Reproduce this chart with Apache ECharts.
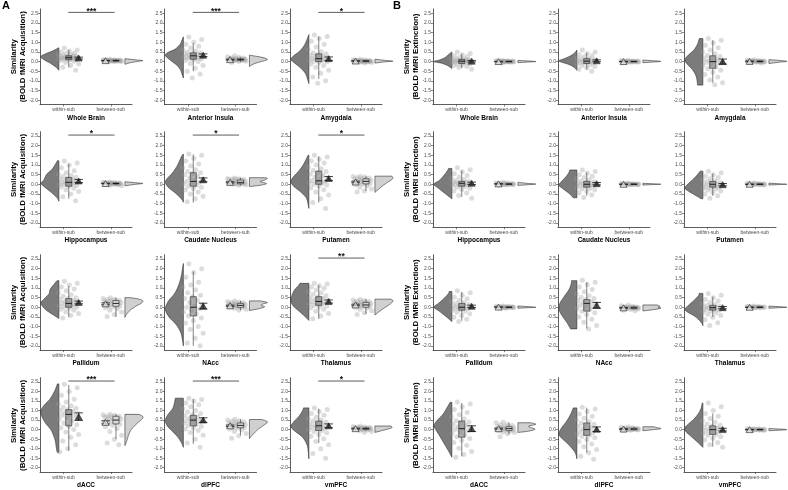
<!DOCTYPE html>
<html><head><meta charset="utf-8">
<script src="https://cdn.jsdelivr.net/npm/echarts@6/dist/echarts.min.js"></script>
<style>html,body{margin:0;padding:0;background:#fff}#c{width:788px;height:490px}</style>
</head><body><div id="c"></div>
<script>
// ---------------- DATA ----------------
const regions = ['Whole Brain','Anterior Insula','Amygdala','Hippocampus','Caudate Nucleus','Putamen','Pallidum','NAcc','Thalamus','dACC','dlPFC','vmPFC'];
const groups = ['within-sub','between-sub'];
const yTicks = [-2,-1.5,-1,-0.5,0,0.5,1,1.5,2,2.5];
const yTitles = ['Similarity\n(BOLD fMRI Acquisition)','Similarity\n(BOLD fMRI Extinction)'];
const acqSig = ['***','***','*','*','*','*','','','**','***','***','*'];
const extSig = ['','','','','','','','','','','',''];

// box stats [lower whisker, q1, median, q3, upper whisker]
const acqWithinBox = [[-0.3,0.1,0.2,0.3,0.6],[-0.5,0.12,0.3,0.45,0.95],[-0.9,0.0,0.15,0.4,1.3],[-0.75,-0.1,0.1,0.35,1.05],[-0.95,-0.1,0.15,0.6,1.55],[-0.95,0.0,0.18,0.68,1.45],[-0.5,0.0,0.2,0.45,1.1],[-2.0,-0.45,0.0,0.55,1.85],[-0.6,0.1,0.3,0.55,1.15],[-1.1,0.2,0.8,1.05,2.35],[-0.75,0.2,0.5,0.75,1.6],[-0.7,-0.05,0.2,0.45,1.1]];
const acqBetweenBox = [[0.0,0.03,0.05,0.07,0.11],[-0.02,0.07,0.1,0.14,0.22],[-0.04,0.0,0.03,0.05,0.1],[-0.03,0.02,0.04,0.06,0.1],[-0.05,0.03,0.1,0.22,0.33],[-0.35,0.02,0.15,0.28,0.42],[-0.5,0.05,0.2,0.35,0.5],[-0.15,0.0,0.1,0.2,0.33],[-0.35,0.0,0.12,0.25,0.42],[-0.5,0.3,0.5,0.7,0.8],[-0.3,0.1,0.22,0.35,0.55],[-0.05,0.02,0.05,0.08,0.15]];
const extWithinBox = [[-0.35,-0.1,0.02,0.12,0.4],[-0.4,-0.1,0.02,0.15,0.45],[-1.1,-0.35,0.0,0.3,1.1],[-0.65,-0.1,0.05,0.15,0.7],[-0.6,-0.15,0.0,0.15,0.6],[-0.6,-0.15,0.0,0.15,0.55],[-0.7,-0.15,0.0,0.2,0.8],[-1.1,-0.2,0.2,0.4,1.3],[-0.5,-0.15,-0.02,0.1,0.55],[-1.4,-0.4,0.05,0.45,1.4],[-1.2,-0.3,0.0,0.35,1.15],[-0.9,-0.25,0.0,0.2,0.85]];
const extBetweenBox = [[-0.03,-0.01,0.0,0.02,0.04],[-0.03,-0.01,0.0,0.02,0.04],[-0.05,-0.01,0.01,0.03,0.07],[-0.04,-0.01,0.01,0.03,0.07],[-0.03,-0.01,0.0,0.02,0.04],[-0.03,-0.01,0.0,0.02,0.04],[-0.03,-0.01,0.0,0.02,0.05],[-0.12,-0.06,-0.03,0.01,0.08],[-0.03,-0.01,0.0,0.02,0.05],[-0.25,-0.05,0.05,0.15,0.35],[-0.05,0.0,0.03,0.07,0.15],[-0.04,-0.01,0.0,0.02,0.05]];

// means and standard errors
const acqWithinMean = [0.18,0.33,0.15,0.17,0.23,0.3,0.25,0.06,0.3,0.68,0.5,0.2];
const acqWithinSE   = [0.05,0.07,0.09,0.08,0.1,0.1,0.07,0.15,0.08,0.2,0.12,0.1];
const acqBetweenMean = [0.05,0.1,0.03,0.04,0.1,0.12,0.18,0.08,0.12,0.38,0.2,0.05];
const acqBetweenSE   = [0.01,0.02,0.01,0.01,0.03,0.04,0.05,0.03,0.04,0.08,0.04,0.02];
const extWithinMean = [0.02,0.04,0.0,0.05,0.03,-0.02,0.05,0.1,-0.02,0.05,0.02,0.0];
const extWithinSE   = [0.04,0.05,0.13,0.06,0.06,0.06,0.06,0.15,0.06,0.15,0.12,0.07];
const extBetweenMean = [0.0,0.0,0.01,0.02,0.0,0.0,0.01,-0.03,0.0,0.05,0.03,0.0];
const extBetweenSE   = [0.01,0.01,0.02,0.01,0.01,0.01,0.01,0.02,0.01,0.03,0.02,0.01];

// violin density profiles: [y, relative width]
const acqWithinViolin = [
 [[-0.45,0],[-0.3,0.15],[-0.1,0.45],[0.05,0.75],[0.2,0.98],[0.28,1],[0.4,0.75],[0.55,0.35],[0.72,0]],
 [[-0.85,0],[-0.7,0.06],[-0.45,0.15],[-0.2,0.35],[0.05,0.7],[0.3,1],[0.45,0.9],[0.65,0.45],[0.9,0.18],[1.1,0.08],[1.28,0]],
 [[-1.14,0],[-0.9,0.08],[-0.6,0.2],[-0.3,0.5],[0.0,0.9],[0.12,1],[0.3,0.85],[0.55,0.5],[0.85,0.25],[1.15,0.1],[1.4,0]],
 [[-0.88,0],[-0.7,0.1],[-0.4,0.45],[-0.1,0.85],[0.05,1],[0.2,0.85],[0.4,0.75],[0.55,0.65],[0.75,0.4],[1.0,0.22],[1.22,0.08]],
 [[-0.93,0],[-0.75,0.12],[-0.45,0.45],[-0.15,0.85],[0.1,1],[0.3,0.9],[0.6,0.6],[0.9,0.38],[1.2,0.22],[1.45,0.1],[1.57,0]],
 [[-1.25,0],[-1.0,0.05],[-0.7,0.15],[-0.4,0.45],[-0.1,0.85],[0.15,1],[0.4,0.85],[0.7,0.55],[1.0,0.32],[1.3,0.15],[1.5,0.05]],
 [[-0.58,0],[-0.4,0.3],[-0.15,0.7],[0.1,0.95],[0.25,1],[0.45,0.8],[0.7,0.55],[0.9,0.5],[1.1,0.35],[1.38,0.1]],
 [[-2.0,0],[-1.7,0.05],[-1.3,0.15],[-0.9,0.4],[-0.5,0.8],[-0.1,1],[0.3,0.85],[0.7,0.5],[1.1,0.28],[1.6,0.12],[2.0,0.05],[2.27,0]],
 [[-0.68,0],[-0.45,0.25],[-0.2,0.55],[0.05,0.85],[0.3,1],[0.6,0.95],[0.9,0.8],[1.1,0.6],[1.24,0.5]],
 [[-1.19,0.1],[-0.9,0.15],[-0.6,0.2],[-0.3,0.3],[0.0,0.45],[0.35,0.75],[0.7,0.95],[1.0,1],[1.3,0.8],[1.6,0.5],[2.0,0.25],[2.4,0.08]],
 [[-0.93,0],[-0.7,0.1],[-0.4,0.3],[-0.1,0.6],[0.2,0.9],[0.5,1],[0.8,0.85],[1.1,0.6],[1.4,0.5],[1.65,0.45]],
 [[-1.53,0],[-1.2,0.03],[-0.8,0.1],[-0.4,0.35],[-0.1,0.75],[0.15,1],[0.4,0.85],[0.7,0.55],[1.0,0.35],[1.14,0.3]]
];
const acqBetweenViolin = [
 [[-0.14,0],[-0.05,0.35],[0.02,0.8],[0.05,1],[0.08,0.7],[0.15,0]],
 [[-0.25,0],[-0.1,0.3],[0.05,0.85],[0.12,1],[0.22,0.7],[0.33,0]],
 [[-0.08,0],[-0.02,0.5],[0.02,1],[0.06,0.6],[0.12,0]],
 [[-0.08,0],[0.0,0.6],[0.04,1],[0.08,0.6],[0.13,0]],
 [[-0.12,0],[-0.05,0.6],[0.03,0.95],[0.1,0.75],[0.15,0.6],[0.22,0.85],[0.3,1],[0.34,0.9]],
 [[-0.42,0],[-0.3,0.15],[-0.1,0.4],[0.1,0.7],[0.25,0.95],[0.35,1],[0.42,0.95]],
 [[-0.52,0],[-0.35,0.1],[-0.15,0.3],[0.05,0.6],[0.2,0.9],[0.32,1],[0.42,0.8],[0.5,0.3]],
 [[-0.17,0],[-0.08,0.5],[0.02,0.85],[0.1,0.65],[0.17,0.75],[0.25,1],[0.33,0.6]],
 [[-0.4,0],[-0.25,0.2],[-0.05,0.5],[0.1,0.75],[0.25,0.95],[0.35,1],[0.42,0.9]],
 [[-0.84,0],[-0.6,0.1],[-0.3,0.2],[0.0,0.35],[0.3,0.65],[0.55,0.95],[0.68,1],[0.8,0.8]],
 [[-0.47,0],[-0.3,0.15],[-0.1,0.35],[0.1,0.6],[0.3,0.9],[0.42,1],[0.53,0.7]],
 [[-0.15,0],[-0.05,0.4],[0.05,0.8],[0.1,0.95],[0.19,0.9]]
];
const extWithinViolin = [
 [[-0.36,0],[-0.2,0.25],[-0.08,0.6],[0.0,1],[0.08,0.7],[0.2,0.4],[0.35,0.2],[0.5,0]],
 [[-0.45,0],[-0.3,0.15],[-0.15,0.45],[0.0,0.95],[0.05,1],[0.15,0.7],[0.3,0.35],[0.45,0.12],[0.6,0]],
 [[-1.22,0.3],[-1.0,0.32],[-0.7,0.4],[-0.4,0.6],[-0.1,0.9],[0.1,1],[0.3,0.85],[0.6,0.5],[0.9,0.3],[1.19,0.2]],
 [[-0.75,0],[-0.5,0.35],[-0.2,0.75],[0.0,1],[0.2,0.7],[0.45,0.45],[0.7,0.25],[0.82,0.18]],
 [[-0.7,0.2],[-0.5,0.4],[-0.25,0.75],[-0.05,1],[0.15,0.85],[0.4,0.6],[0.6,0.45],[0.74,0.4]],
 [[-0.75,0.1],[-0.55,0.45],[-0.3,0.9],[-0.18,1],[0.0,0.85],[0.25,0.55],[0.5,0.3],[0.68,0.15]],
 [[-0.74,0],[-0.5,0.3],[-0.2,0.7],[0.0,1],[0.2,0.75],[0.45,0.45],[0.7,0.2],[0.82,0.15]],
 [[-1.12,0.35],[-0.8,0.55],[-0.4,0.85],[-0.1,1],[0.2,0.95],[0.5,0.75],[0.9,0.45],[1.2,0.32],[1.38,0.3]],
 [[-0.96,0],[-0.8,0.08],[-0.5,0.4],[-0.25,0.85],[-0.1,1],[0.1,0.8],[0.35,0.5],[0.6,0.25],[0.72,0.2]],
 [[-1.45,0],[-1.1,0.2],[-0.7,0.45],[-0.3,0.7],[0.0,0.9],[0.2,1],[0.45,0.85],[0.8,0.5],[1.1,0.3],[1.43,0.1]],
 [[-1.53,0],[-1.2,0.1],[-0.8,0.45],[-0.4,0.9],[-0.2,1],[0.1,0.85],[0.4,0.6],[0.8,0.35],[1.14,0.2]],
 [[-0.93,0],[-0.7,0.25],[-0.4,0.6],[-0.1,0.95],[0.1,1],[0.3,0.8],[0.6,0.45],[1.0,0.15],[1.4,0.03]]
];
const extBetweenViolin = [
 [[-0.06,0],[-0.02,0.6],[0.0,1],[0.03,0.6],[0.06,0]],
 [[-0.06,0],[-0.02,0.6],[0.01,1],[0.04,0.6],[0.08,0]],
 [[-0.1,0],[-0.03,0.6],[0.01,1],[0.05,0.7],[0.1,0]],
 [[-0.06,0],[-0.02,0.6],[0.01,1],[0.05,0.5],[0.1,0]],
 [[-0.04,0],[-0.01,0.7],[0.0,1],[0.02,0.7],[0.05,0]],
 [[-0.04,0],[-0.01,0.7],[0.0,1],[0.02,0.7],[0.06,0]],
 [[-0.05,0],[-0.02,0.6],[0.0,1],[0.03,0.6],[0.07,0]],
 [[-0.19,0],[-0.12,0.6],[-0.05,1],[0.0,0.85],[0.05,0.95],[0.12,0.8]],
 [[-0.05,0],[-0.02,0.6],[0.0,1],[0.03,0.6],[0.06,0]],
 [[-0.15,0],[-0.08,0.6],[0.02,0.95],[0.1,0.75],[0.18,0.6],[0.28,1],[0.36,0.7]],
 [[-0.06,0],[0.0,0.6],[0.05,1],[0.1,0.8],[0.15,0.6]],
 [[-0.06,0],[-0.03,0.6],[0.0,1],[0.03,0.6],[0.06,0]]
];

// individual subject values
const acqWithinPts = [
 [0.7,0.6,0.55,0.5,0.45,0.42,0.38,0.35,0.32,0.3,0.28,0.26,0.25,0.23,0.22,0.2,0.19,0.18,0.16,0.15,0.13,0.12,0.1,0.08,0.05,0.02,-0.05,-0.12,-0.2,-0.3,-0.45],
 [1.28,1.15,1.0,0.9,0.8,0.7,0.62,0.55,0.5,0.46,0.43,0.4,0.37,0.34,0.31,0.29,0.27,0.25,0.22,0.2,0.18,0.16,0.14,0.1,0.05,0.0,-0.1,-0.2,-0.35,-0.5,-0.65,-0.85],
 [1.38,1.3,1.2,1.05,0.9,0.75,0.62,0.52,0.45,0.4,0.36,0.32,0.28,0.24,0.2,0.17,0.15,0.12,0.1,0.07,0.04,0.02,0.0,-0.05,-0.12,-0.2,-0.3,-0.45,-0.6,-0.8,-1.0,-1.12],
 [1.2,1.1,1.0,0.85,0.7,0.6,0.52,0.46,0.4,0.36,0.32,0.28,0.24,0.2,0.16,0.13,0.1,0.08,0.05,0.02,0.0,-0.03,-0.07,-0.1,-0.14,-0.2,-0.28,-0.38,-0.5,-0.65,-0.85],
 [1.57,1.5,1.35,1.2,1.05,0.95,0.85,0.75,0.66,0.6,0.55,0.48,0.4,0.33,0.26,0.2,0.15,0.1,0.05,0.0,-0.05,-0.1,-0.15,-0.22,-0.3,-0.4,-0.5,-0.62,-0.75,-0.9],
 [1.5,1.42,1.3,1.2,1.1,1.0,0.9,0.8,0.72,0.66,0.6,0.52,0.45,0.38,0.32,0.26,0.2,0.16,0.12,0.08,0.04,0.0,-0.04,-0.1,-0.18,-0.28,-0.4,-0.55,-0.75,-0.95,-1.25],
 [1.35,1.25,1.15,1.05,0.95,0.85,0.75,0.65,0.57,0.5,0.45,0.4,0.35,0.3,0.26,0.22,0.19,0.16,0.12,0.08,0.05,0.02,0.0,-0.04,-0.1,-0.16,-0.24,-0.32,-0.42,-0.55],
 [2.25,2.0,1.8,1.55,1.3,1.15,1.05,0.9,0.75,0.62,0.55,0.45,0.35,0.25,0.15,0.08,0.0,-0.08,-0.16,-0.25,-0.35,-0.45,-0.55,-0.68,-0.82,-1.0,-1.15,-1.35,-1.6,-1.85,-2.0],
 [1.25,1.2,1.12,1.05,0.98,0.9,0.82,0.75,0.68,0.6,0.55,0.5,0.45,0.4,0.36,0.32,0.28,0.25,0.22,0.18,0.14,0.1,0.06,0.02,-0.03,-0.1,-0.2,-0.32,-0.45,-0.6],
 [2.38,2.2,2.0,1.8,1.6,1.45,1.35,1.25,1.18,1.12,1.06,1.0,0.95,0.9,0.85,0.8,0.75,0.7,0.62,0.55,0.45,0.35,0.25,0.18,0.1,0.0,-0.12,-0.25,-0.4,-0.6,-0.8,-1.0,-1.18],
 [1.65,1.58,1.5,1.4,1.3,1.2,1.1,1.0,0.92,0.85,0.78,0.72,0.66,0.6,0.55,0.5,0.46,0.42,0.37,0.32,0.27,0.22,0.16,0.1,0.03,-0.05,-0.15,-0.3,-0.5,-0.7,-0.93],
 [1.14,1.05,0.95,0.85,0.75,0.65,0.57,0.5,0.45,0.4,0.35,0.3,0.26,0.22,0.19,0.16,0.12,0.08,0.04,0.0,-0.05,-0.1,-0.17,-0.25,-0.35,-0.48,-0.62,-0.8,-1.0,-1.25,-1.5]
];
const acqBetweenPts = [
 [0.12,0.1,0.09,0.08,0.08,0.07,0.07,0.06,0.06,0.06,0.05,0.05,0.05,0.05,0.04,0.04,0.04,0.03,0.03,0.03,0.02,0.02,0.01,0.0,-0.01],
 [0.3,0.25,0.22,0.2,0.18,0.16,0.15,0.14,0.13,0.12,0.12,0.11,0.1,0.1,0.09,0.09,0.08,0.08,0.07,0.06,0.05,0.04,0.02,0.0,-0.05],
 [0.12,0.1,0.08,0.07,0.06,0.05,0.05,0.04,0.04,0.03,0.03,0.03,0.02,0.02,0.02,0.01,0.01,0.0,0.0,-0.01,-0.02,-0.03,-0.05,-0.07],
 [0.12,0.1,0.09,0.08,0.07,0.06,0.06,0.05,0.05,0.04,0.04,0.04,0.03,0.03,0.03,0.02,0.02,0.01,0.0,-0.01,-0.03,-0.05,-0.08],
 [0.33,0.3,0.28,0.27,0.26,0.25,0.24,0.22,0.2,0.17,0.14,0.12,0.1,0.08,0.06,0.05,0.04,0.03,0.02,0.02,0.01,0.0,-0.02,-0.05],
 [0.42,0.4,0.38,0.35,0.33,0.3,0.28,0.26,0.24,0.21,0.18,0.16,0.14,0.12,0.1,0.08,0.05,0.03,0.0,-0.03,-0.08,-0.15,-0.25,-0.35,-0.4],
 [0.5,0.45,0.42,0.4,0.37,0.35,0.33,0.3,0.28,0.25,0.22,0.2,0.18,0.16,0.13,0.1,0.08,0.05,0.02,-0.02,-0.08,-0.15,-0.25,-0.38,-0.48],
 [0.33,0.3,0.27,0.25,0.23,0.21,0.2,0.18,0.16,0.14,0.12,0.11,0.1,0.09,0.08,0.07,0.05,0.04,0.02,0.0,-0.02,-0.05,-0.1,-0.15],
 [0.42,0.38,0.35,0.32,0.3,0.28,0.26,0.24,0.22,0.2,0.17,0.15,0.13,0.12,0.1,0.08,0.06,0.04,0.02,0.0,-0.04,-0.1,-0.18,-0.28,-0.38],
 [0.8,0.78,0.75,0.72,0.7,0.68,0.65,0.62,0.6,0.56,0.52,0.5,0.47,0.44,0.4,0.36,0.32,0.28,0.22,0.15,0.05,-0.1,-0.3,-0.5,-0.7,-0.8],
 [0.55,0.5,0.47,0.44,0.41,0.38,0.35,0.32,0.3,0.27,0.25,0.23,0.21,0.19,0.17,0.15,0.12,0.1,0.07,0.03,-0.02,-0.1,-0.2,-0.32,-0.45],
 [0.19,0.16,0.14,0.12,0.11,0.1,0.09,0.08,0.07,0.07,0.06,0.05,0.05,0.04,0.04,0.03,0.02,0.02,0.01,0.0,-0.02,-0.05,-0.1,-0.14]
];
const extWithinPts = [
 [0.5,0.42,0.35,0.3,0.25,0.21,0.18,0.15,0.12,0.1,0.08,0.06,0.05,0.03,0.02,0.01,0.0,-0.01,-0.03,-0.05,-0.07,-0.1,-0.13,-0.16,-0.2,-0.25,-0.3,-0.4],
 [0.6,0.5,0.42,0.35,0.3,0.25,0.2,0.16,0.13,0.1,0.08,0.05,0.03,0.01,0.0,-0.02,-0.04,-0.06,-0.09,-0.12,-0.16,-0.2,-0.26,-0.33,-0.4,-0.5],
 [1.2,1.1,0.98,0.85,0.72,0.6,0.5,0.4,0.32,0.26,0.2,0.15,0.1,0.05,0.02,0.0,-0.03,-0.08,-0.14,-0.2,-0.28,-0.36,-0.45,-0.55,-0.67,-0.8,-0.95,-1.1,-1.2],
 [0.85,0.75,0.65,0.55,0.45,0.38,0.3,0.25,0.2,0.16,0.13,0.1,0.08,0.06,0.04,0.02,0.0,-0.02,-0.05,-0.08,-0.11,-0.15,-0.2,-0.27,-0.35,-0.45,-0.58,-0.72],
 [0.74,0.66,0.58,0.5,0.42,0.35,0.28,0.22,0.17,0.13,0.1,0.06,0.03,0.01,0.0,-0.02,-0.05,-0.08,-0.12,-0.16,-0.2,-0.25,-0.3,-0.37,-0.45,-0.55,-0.68],
 [0.68,0.6,0.5,0.42,0.35,0.28,0.22,0.17,0.13,0.09,0.05,0.02,0.0,-0.03,-0.06,-0.1,-0.13,-0.16,-0.19,-0.22,-0.25,-0.3,-0.35,-0.42,-0.5,-0.6,-0.73],
 [0.85,0.75,0.62,0.52,0.44,0.36,0.3,0.24,0.19,0.15,0.11,0.08,0.05,0.02,0.0,-0.02,-0.05,-0.08,-0.12,-0.16,-0.2,-0.26,-0.33,-0.42,-0.52,-0.62,-0.74],
 [1.4,1.3,1.18,1.05,0.92,0.8,0.7,0.6,0.52,0.45,0.4,0.35,0.3,0.25,0.2,0.15,0.1,0.05,0.0,-0.06,-0.12,-0.2,-0.28,-0.38,-0.5,-0.62,-0.78,-0.95,-1.12],
 [0.72,0.62,0.5,0.4,0.32,0.25,0.18,0.13,0.09,0.05,0.02,0.0,-0.02,-0.04,-0.07,-0.1,-0.13,-0.16,-0.2,-0.25,-0.3,-0.36,-0.43,-0.52,-0.65,-0.8,-0.95],
 [1.45,1.35,1.2,1.05,0.9,0.78,0.66,0.56,0.47,0.4,0.33,0.27,0.21,0.15,0.1,0.05,0.0,-0.06,-0.13,-0.2,-0.28,-0.37,-0.46,-0.56,-0.68,-0.82,-0.98,-1.15,-1.3,-1.45],
 [1.18,1.08,0.95,0.82,0.7,0.6,0.5,0.42,0.35,0.28,0.22,0.16,0.1,0.05,0.0,-0.05,-0.1,-0.15,-0.2,-0.25,-0.3,-0.36,-0.43,-0.52,-0.62,-0.75,-0.9,-1.05,-1.22,-1.4,-1.55],
 [1.4,1.2,1.0,0.85,0.7,0.58,0.47,0.38,0.3,0.23,0.17,0.12,0.07,0.03,0.0,-0.03,-0.07,-0.11,-0.15,-0.2,-0.25,-0.3,-0.37,-0.45,-0.55,-0.67,-0.8,-0.93]
];
const extBetweenPts = [
 [0.06,0.05,0.04,0.03,0.03,0.02,0.02,0.01,0.01,0.01,0.0,0.0,0.0,0.0,-0.01,-0.01,-0.01,-0.02,-0.02,-0.03,-0.04,-0.05],
 [0.07,0.05,0.04,0.03,0.03,0.02,0.02,0.01,0.01,0.0,0.0,0.0,0.0,-0.01,-0.01,-0.02,-0.02,-0.03,-0.04,-0.06],
 [0.1,0.08,0.06,0.05,0.04,0.03,0.03,0.02,0.02,0.01,0.01,0.0,0.0,0.0,-0.01,-0.01,-0.02,-0.03,-0.04,-0.06,-0.09],
 [0.1,0.08,0.06,0.05,0.04,0.03,0.03,0.02,0.02,0.01,0.01,0.0,0.0,0.0,-0.01,-0.01,-0.02,-0.03,-0.04,-0.05],
 [0.05,0.04,0.03,0.03,0.02,0.02,0.01,0.01,0.01,0.0,0.0,0.0,0.0,-0.01,-0.01,-0.01,-0.02,-0.02,-0.03],
 [0.06,0.05,0.04,0.03,0.03,0.02,0.02,0.01,0.01,0.0,0.0,0.0,-0.01,-0.01,-0.02,-0.02,-0.03,-0.04],
 [0.07,0.05,0.04,0.03,0.03,0.02,0.02,0.01,0.01,0.0,0.0,0.0,0.0,-0.01,-0.01,-0.02,-0.02,-0.03,-0.05],
 [0.12,0.08,0.05,0.03,0.02,0.01,0.0,0.0,-0.01,-0.02,-0.02,-0.03,-0.03,-0.04,-0.05,-0.06,-0.07,-0.09,-0.12,-0.15,-0.18],
 [0.06,0.05,0.04,0.03,0.02,0.02,0.01,0.01,0.0,0.0,0.0,-0.01,-0.01,-0.02,-0.02,-0.03,-0.04],
 [0.38,0.36,0.3,0.26,0.22,0.19,0.16,0.14,0.12,0.1,0.08,0.06,0.05,0.04,0.02,0.01,0.0,-0.02,-0.04,-0.06,-0.09,-0.12,-0.15,-0.22,-0.38],
 [0.15,0.12,0.1,0.08,0.07,0.06,0.05,0.04,0.03,0.03,0.02,0.02,0.01,0.01,0.0,0.0,-0.01,-0.02,-0.03,-0.05],
 [0.05,0.04,0.03,0.02,0.02,0.01,0.01,0.0,0.0,0.0,0.0,-0.01,-0.01,-0.02,-0.02,-0.03,-0.04,-0.05]
];

// ---------------- LAYOUT / STYLE ----------------
const FONT = 'Liberation Sans, Arial, Helvetica, sans-serif';
const colX = [[40,164.5,290],[433,558,684]];
const rowTop = [9,131.7,254.7,377.7];
const GW = 92, GH = 95.5;
const XMIN = 0.5, XMAX = 2.45;
const VW = 0.38;          // violin max width (x units)
const POS = {wViolin:0.9, wBox:1.11, wMean:1.32, wPts:1.1, bMean:1.89, bBox:2.11, bViolin:2.3, bPts:2.03};

function jit(i){ const f = (i*0.6180339887 + 0.31) % 1; return f - 0.5; }

function catmull(pts){
  if (pts.length < 3) return pts.slice();
  const out = [];
  for (let i = 0; i < pts.length - 1; i++) {
    const p0 = pts[Math.max(i-1,0)], p1 = pts[i], p2 = pts[i+1], p3 = pts[Math.min(i+2,pts.length-1)];
    for (let s = 0; s < 8; s++) {
      const t = s/8, t2 = t*t, t3 = t2*t;
      const f = k => 0.5*((2*p1[k]) + (-p0[k]+p2[k])*t + (2*p0[k]-5*p1[k]+4*p2[k]-p3[k])*t2 + (-p0[k]+3*p1[k]-3*p2[k]+p3[k])*t3);
      out.push([f(0), Math.max(0, f(1))]);
    }
  }
  out.push(pts[pts.length-1]);
  return out;
}

const halves = [
  {wBox:acqWithinBox,bBox:acqBetweenBox,wMean:acqWithinMean,wSE:acqWithinSE,bMean:acqBetweenMean,bSE:acqBetweenSE,wV:acqWithinViolin,bV:acqBetweenViolin,wP:acqWithinPts,bP:acqBetweenPts,sig:acqSig},
  {wBox:extWithinBox,bBox:extBetweenBox,wMean:extWithinMean,wSE:extWithinSE,bMean:extBetweenMean,bSE:extBetweenSE,wV:extWithinViolin,bV:extBetweenViolin,wP:extWithinPts,bP:extBetweenPts,sig:extSig}
];

const grid = [], xAxis = [], yAxis = [], series = [], graphic = [];
let gi = 0;
halves.forEach((H, h) => {
  for (let i = 0; i < 12; i++) {
    const r = Math.floor(i/3), c = i % 3;
    grid.push({left: colX[h][c], top: rowTop[r], width: GW, height: GH});
    xAxis.push({
      gridIndex: gi, type: 'value', min: XMIN, max: XMAX,
      name: regions[i], nameLocation: 'middle', nameGap: 10,
      nameTextStyle: {fontFamily: FONT, fontSize: 6.5, fontWeight: 'bold', color: '#000'},
      axisLine: {onZero: false, lineStyle: {color: '#333', width: 0.8}},
      axisTick: {customValues: [1,2], length: 2, lineStyle: {color: '#333', width: 0.6}},
      axisLabel: {customValues: [1,2], formatter: v => groups[Math.round(v)-1], fontFamily: FONT, fontSize: 5, color: '#4d4d4d', margin: 3},
      splitLine: {show: false}
    });
    yAxis.push({
      gridIndex: gi, type: 'value', min: -2.225, max: 2.725,
      axisLine: {onZero: false, lineStyle: {color: '#333', width: 0.8}},
      axisTick: {customValues: yTicks, length: 2, lineStyle: {color: '#333', width: 0.6}},
      axisLabel: {customValues: yTicks, formatter: v => v.toFixed(1), fontFamily: FONT, fontSize: 5, color: '#4d4d4d', margin: 2},
      splitLine: {show: false}
    });
    const ax = {xAxisIndex: gi, yAxisIndex: gi};
    const wV = H.wV[i], bV = H.bV[i];
    // violins
    series.push(Object.assign({
      type: 'custom', z: 1, silent: true, clip: false, data: [[0],[1]],
      renderItem: (params, api) => {
        const k = params.dataIndex;
        const prof = k === 0 ? wV : bV;
        const edge = k === 0 ? POS.wViolin : POS.bViolin;
        const dir = k === 0 ? -1 : 1;
        const sm = catmull(prof);
        const pts = [api.coord([edge, sm[0][0]])];
        sm.forEach(p => pts.push(api.coord([edge + dir*p[1]*VW, p[0]])));
        pts.push(api.coord([edge, sm[sm.length-1][0]]));
        return {type: 'polygon', shape: {points: pts}, style: {fill: k === 0 ? '#7b7b7b' : '#d0d0d0', stroke: '#2b2b2b', lineWidth: 0.6}};
      }
    }, ax));
    // points
    const pw = H.wP[i].map((v, j) => [POS.wPts + jit(j)*0.44, v]);
    const pb = H.bP[i].map((v, j) => [POS.bPts + jit(j+5)*0.4, v]);
    series.push(Object.assign({
      type: 'scatter', z: 2, silent: true, symbol: 'circle', symbolSize: 5,
      itemStyle: {color: 'rgba(150,150,150,0.42)'}, data: pw.concat(pb)
    }, ax));
    // boxes
    const wb = H.wBox[i], bb = H.bBox[i];
    series.push(Object.assign({
      type: 'custom', z: 3, silent: true, clip: false,
      data: [[POS.wBox].concat(wb), [POS.bBox].concat(bb)],
      renderItem: (params, api) => {
        const x = api.value(0), hw = 0.065;
        const lo = api.coord([x, api.value(1)]), q1 = api.coord([x, api.value(2)]), md = api.coord([x, api.value(3)]),
              q3 = api.coord([x, api.value(4)]), hi = api.coord([x, api.value(5)]);
        const L = api.coord([x-hw, 0])[0], R = api.coord([x+hw, 0])[0];
        const st = {stroke: '#2b2b2b', lineWidth: 0.6};
        return {type: 'group', children: [
          {type: 'line', shape: {x1: lo[0], y1: lo[1], x2: q1[0], y2: q1[1]}, style: st},
          {type: 'line', shape: {x1: q3[0], y1: q3[1], x2: hi[0], y2: hi[1]}, style: st},
          {type: 'rect', shape: {x: L, y: q3[1], width: R-L, height: q1[1]-q3[1]},
            style: {fill: params.dataIndex === 0 ? 'rgba(120,120,120,0.6)' : 'rgba(225,225,225,0.7)', stroke: '#2b2b2b', lineWidth: 0.6}},
          {type: 'line', shape: {x1: L, y1: md[1], x2: R, y2: md[1]}, style: {stroke: '#111', lineWidth: 0.9}}
        ]};
      }
    }, ax));
    // error bars (mean ± SE)
    series.push(Object.assign({
      type: 'custom', z: 4, silent: true, clip: false,
      data: [[POS.wMean, H.wMean[i]-H.wSE[i], H.wMean[i]+H.wSE[i]], [POS.bMean, H.bMean[i]-H.bSE[i], H.bMean[i]+H.bSE[i]]],
      renderItem: (params, api) => {
        const x = api.value(0), cw = 0.09;
        const a = api.coord([x-cw, api.value(1)]), b = api.coord([x+cw, api.value(2)]);
        const m = api.coord([x, 0])[0];
        const st = {stroke: '#111', lineWidth: 0.8};
        return {type: 'group', children: [
          {type: 'line', shape: {x1: m, y1: a[1], x2: m, y2: b[1]}, style: st},
          {type: 'line', shape: {x1: a[0], y1: a[1], x2: b[0], y2: a[1]}, style: st},
          {type: 'line', shape: {x1: a[0], y1: b[1], x2: b[0], y2: b[1]}, style: st}
        ]};
      }
    }, ax));
    // mean triangles
    series.push(Object.assign({
      type: 'scatter', z: 5, silent: true, symbol: 'triangle', symbolSize: [7,6],
      data: [
        {value: [POS.wMean, H.wMean[i]], itemStyle: {color: '#262626', borderColor: '#111', borderWidth: 0.6}},
        {value: [POS.bMean, H.bMean[i]], itemStyle: {color: '#e6e6e6', borderColor: '#111', borderWidth: 0.7}}
      ]
    }, ax));
    // significance bar
    if (H.sig[i]) {
      const lab = H.sig[i];
      series.push(Object.assign({
        type: 'custom', z: 4, silent: true, clip: false, data: [[1.1, 2.08, 2.55]],
        renderItem: (params, api) => {
          const a = api.coord([api.value(0), api.value(2)]), b = api.coord([api.value(1), api.value(2)]);
          return {type: 'group', children: [
            {type: 'line', shape: {x1: a[0], y1: a[1], x2: b[0], y2: b[1]}, style: {stroke: '#333', lineWidth: 0.8}},
            {type: 'text', x: (a[0]+b[0])/2, y: a[1] + 3.5, style: {text: lab, font: 'bold 8.5px ' + FONT, fill: '#111', align: 'center', verticalAlign: 'bottom'}}
          ]};
        }
      }, ax));
    }
    gi++;
  }
  // y titles
  for (let r = 0; r < 4; r++) {
    graphic.push({type: 'text', x: colX[h][0] - 21.5, y: rowTop[r] + GH/2, rotation: Math.PI/2, silent: true,
      style: {text: yTitles[h], font: 'bold 7.8px ' + FONT, fill: '#000', align: 'center', verticalAlign: 'middle', lineHeight: 8.5}});
  }
});
graphic.push({type: 'text', left: 2, top: 0, style: {text: 'A', font: 'bold 11px ' + FONT, fill: '#000'}});
graphic.push({type: 'text', left: 393, top: 0, style: {text: 'B', font: 'bold 11px ' + FONT, fill: '#000'}});

const chart = echarts.init(document.getElementById('c'), null, {renderer: 'canvas'});
chart.setOption({animation: false, backgroundColor: '#fff', grid, xAxis, yAxis, series, graphic});
</script></body></html>
